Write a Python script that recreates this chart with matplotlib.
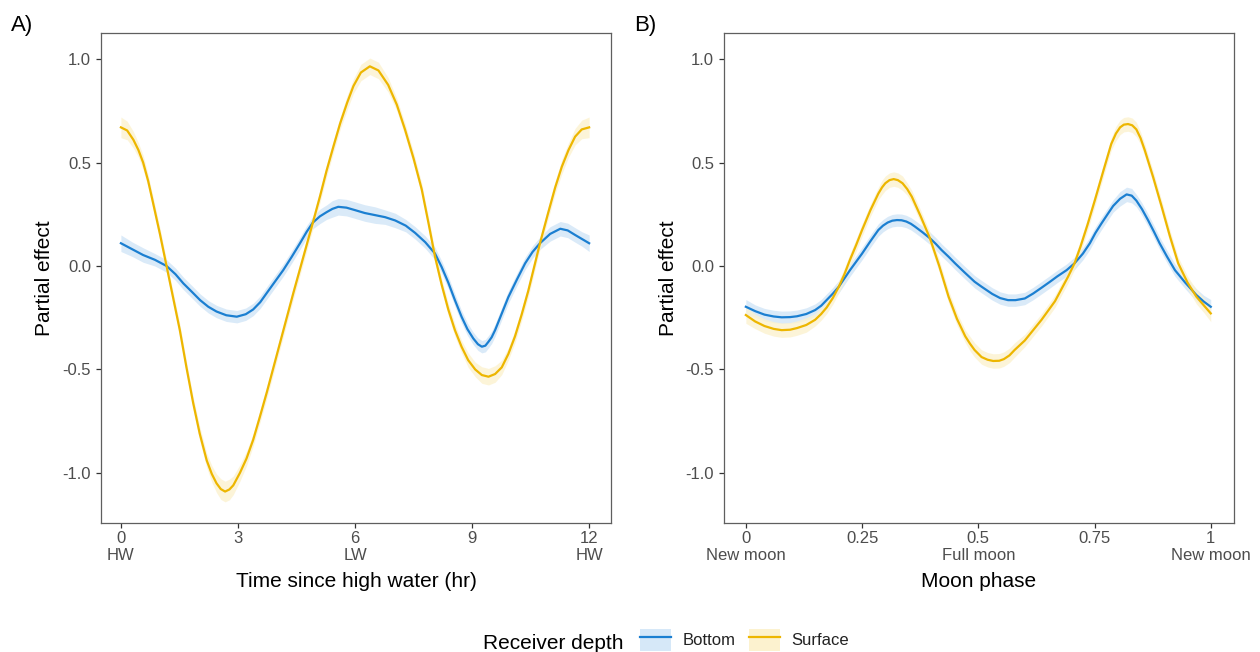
import matplotlib
matplotlib.use("Agg")
import matplotlib.pyplot as plt
from matplotlib.patches import Patch
from matplotlib.lines import Line2D

plt.rcParams['font.family'] = ['Liberation Sans', 'DejaVu Sans']

# ---------------- data: (x, partial effect, CI half-width) ----------------
# Panel A: time since high water (hr)
tide_surface = [
    (0, 0.67, 0.05), (0.16, 0.655, 0.045), (0.32, 0.61, 0.04), (0.45, 0.56, 0.035),
    (0.57, 0.50, 0.035), (0.7, 0.41, 0.03), (0.83, 0.30, 0.03), (1.0, 0.155, 0.03),
    (1.17, 0.0, 0.03), (1.34, -0.155, 0.03), (1.51, -0.31, 0.03), (1.68, -0.49, 0.03),
    (1.85, -0.66, 0.03), (2.02, -0.81, 0.035), (2.2, -0.94, 0.035), (2.33, -1.005, 0.04),
    (2.45, -1.05, 0.045), (2.56, -1.078, 0.05), (2.67, -1.09, 0.05), (2.78, -1.08, 0.05),
    (2.88, -1.06, 0.045), (3.05, -1.0, 0.04), (3.22, -0.93, 0.035), (3.39, -0.84, 0.03),
    (3.56, -0.73, 0.03), (3.74, -0.61, 0.03), (3.91, -0.49, 0.03), (4.08, -0.37, 0.03),
    (4.25, -0.25, 0.03), (4.42, -0.13, 0.03), (4.67, 0.04, 0.03), (4.92, 0.21, 0.03),
    (5.1, 0.335, 0.03), (5.27, 0.46, 0.03), (5.45, 0.58, 0.03), (5.62, 0.69, 0.03),
    (5.8, 0.79, 0.035), (5.96, 0.87, 0.035), (6.15, 0.935, 0.04), (6.38, 0.965, 0.04),
    (6.6, 0.945, 0.04), (6.85, 0.875, 0.035), (7.07, 0.78, 0.03), (7.28, 0.66, 0.03),
    (7.5, 0.52, 0.03), (7.71, 0.37, 0.03), (7.88, 0.21, 0.03), (8.05, 0.045, 0.03),
    (8.22, -0.09, 0.03), (8.39, -0.21, 0.03), (8.56, -0.31, 0.03), (8.73, -0.39, 0.03),
    (8.9, -0.455, 0.035), (9.08, -0.50, 0.035), (9.25, -0.527, 0.04), (9.42, -0.535, 0.04),
    (9.59, -0.522, 0.04), (9.76, -0.49, 0.035), (9.93, -0.425, 0.03), (10.1, -0.34, 0.03),
    (10.27, -0.235, 0.03), (10.44, -0.12, 0.03), (10.59, -0.005, 0.03), (10.74, 0.11, 0.03),
    (10.94, 0.25, 0.03), (11.13, 0.38, 0.03), (11.3, 0.48, 0.035), (11.47, 0.56, 0.035),
    (11.64, 0.625, 0.04), (11.81, 0.66, 0.045), (12, 0.67, 0.05),
]
tide_bottom = [
    (0, 0.11, 0.04), (0.3, 0.08, 0.035), (0.57, 0.053, 0.035), (0.87, 0.03, 0.03),
    (1.17, 0.0, 0.03), (1.4, -0.04, 0.03), (1.6, -0.084, 0.03), (1.82, -0.125, 0.03),
    (2.03, -0.165, 0.03), (2.24, -0.197, 0.03), (2.45, -0.22, 0.03), (2.7, -0.238, 0.03),
    (2.97, -0.245, 0.03), (3.2, -0.233, 0.03), (3.39, -0.21, 0.03), (3.57, -0.175, 0.03),
    (3.74, -0.13, 0.03), (3.95, -0.075, 0.03), (4.16, -0.02, 0.03), (4.38, 0.045, 0.03),
    (4.59, 0.11, 0.03), (4.76, 0.165, 0.03), (4.92, 0.21, 0.03), (5.1, 0.24, 0.035),
    (5.27, 0.26, 0.035), (5.42, 0.276, 0.04), (5.57, 0.286, 0.04), (5.78, 0.282, 0.04),
    (6.0, 0.27, 0.04), (6.25, 0.256, 0.04), (6.51, 0.246, 0.04), (6.77, 0.236, 0.035),
    (7.03, 0.22, 0.035), (7.3, 0.195, 0.03), (7.54, 0.16, 0.03), (7.8, 0.115, 0.03),
    (8.05, 0.06, 0.03), (8.22, -0.005, 0.03), (8.39, -0.08, 0.03), (8.56, -0.165, 0.03),
    (8.73, -0.245, 0.03), (8.88, -0.305, 0.03), (9.03, -0.35, 0.03), (9.15, -0.378, 0.03),
    (9.25, -0.39, 0.03), (9.34, -0.385, 0.03), (9.42, -0.366, 0.03), (9.5, -0.345, 0.03),
    (9.59, -0.31, 0.03), (9.76, -0.23, 0.03), (9.93, -0.15, 0.03), (10.15, -0.065, 0.03),
    (10.36, 0.013, 0.03), (10.55, 0.068, 0.03), (10.74, 0.11, 0.03), (11.0, 0.155, 0.035),
    (11.26, 0.18, 0.035), (11.45, 0.172, 0.035), (11.64, 0.15, 0.035), (11.82, 0.13, 0.035),
    (12, 0.11, 0.04),
]

# Panel B: moon phase
moon_bottom = [
    (0, -0.197, 0.035), (0.02, -0.218, 0.03), (0.04, -0.235, 0.03), (0.06, -0.244, 0.03),
    (0.077, -0.248, 0.03), (0.095, -0.247, 0.03), (0.11, -0.243, 0.03), (0.13, -0.232, 0.03),
    (0.149, -0.213, 0.03), (0.162, -0.192, 0.03), (0.174, -0.164, 0.03), (0.187, -0.134, 0.03),
    (0.2, -0.10, 0.03), (0.212, -0.06, 0.03), (0.224, -0.02, 0.03), (0.237, 0.02, 0.03),
    (0.25, 0.06, 0.03), (0.268, 0.12, 0.03), (0.285, 0.174, 0.03), (0.295, 0.195, 0.03),
    (0.305, 0.21, 0.03), (0.315, 0.219, 0.03), (0.325, 0.222, 0.03), (0.335, 0.221, 0.03),
    (0.345, 0.215, 0.03), (0.355, 0.204, 0.03), (0.364, 0.19, 0.03), (0.38, 0.163, 0.03),
    (0.396, 0.134, 0.03), (0.409, 0.106, 0.03), (0.421, 0.077, 0.03), (0.436, 0.045, 0.03),
    (0.45, 0.013, 0.03), (0.47, -0.03, 0.03), (0.492, -0.076, 0.03), (0.507, -0.10, 0.03),
    (0.53, -0.135, 0.03), (0.547, -0.155, 0.03), (0.564, -0.165, 0.03), (0.58, -0.165, 0.03),
    (0.6, -0.157, 0.03), (0.618, -0.133, 0.03), (0.636, -0.105, 0.03), (0.653, -0.078, 0.03),
    (0.67, -0.05, 0.03), (0.69, -0.02, 0.03), (0.707, 0.013, 0.03), (0.725, 0.06, 0.03),
    (0.74, 0.11, 0.03), (0.752, 0.16, 0.03), (0.765, 0.206, 0.03), (0.778, 0.25, 0.03),
    (0.79, 0.29, 0.03), (0.805, 0.325, 0.035), (0.819, 0.346, 0.035), (0.83, 0.34, 0.035),
    (0.84, 0.316, 0.03), (0.852, 0.275, 0.03), (0.865, 0.222, 0.03), (0.878, 0.165, 0.03),
    (0.89, 0.11, 0.03), (0.906, 0.045, 0.03), (0.923, -0.02, 0.03), (0.945, -0.08, 0.03),
    (0.969, -0.14, 0.03), (0.985, -0.172, 0.03), (1.0, -0.197, 0.035),
]
moon_surface = [
    (0, -0.237, 0.04), (0.02, -0.268, 0.035), (0.04, -0.29, 0.035), (0.06, -0.304, 0.035),
    (0.077, -0.31, 0.035), (0.095, -0.308, 0.035), (0.11, -0.30, 0.035), (0.13, -0.285, 0.035),
    (0.149, -0.26, 0.03), (0.162, -0.232, 0.03), (0.174, -0.20, 0.03), (0.187, -0.155, 0.03),
    (0.2, -0.10, 0.03), (0.212, -0.04, 0.03), (0.224, 0.03, 0.03), (0.237, 0.10, 0.03),
    (0.25, 0.174, 0.03), (0.268, 0.27, 0.03), (0.285, 0.35, 0.03), (0.293, 0.38, 0.035),
    (0.3, 0.40, 0.035), (0.309, 0.415, 0.035), (0.318, 0.42, 0.035), (0.327, 0.415, 0.035),
    (0.337, 0.40, 0.035), (0.347, 0.372, 0.03), (0.357, 0.335, 0.03), (0.376, 0.24, 0.03),
    (0.396, 0.134, 0.03), (0.416, 0.0, 0.03), (0.436, -0.148, 0.03), (0.454, -0.255, 0.03),
    (0.472, -0.34, 0.03), (0.482, -0.375, 0.035), (0.492, -0.406, 0.035), (0.507, -0.44, 0.035),
    (0.52, -0.453, 0.035), (0.532, -0.459, 0.035), (0.545, -0.458, 0.035), (0.555, -0.45, 0.035),
    (0.567, -0.432, 0.035), (0.578, -0.406, 0.035), (0.6, -0.36, 0.03), (0.618, -0.31, 0.03),
    (0.636, -0.26, 0.03), (0.665, -0.17, 0.03), (0.693, -0.052, 0.03), (0.707, 0.013, 0.03),
    (0.72, 0.095, 0.03), (0.735, 0.2, 0.03), (0.751, 0.32, 0.03), (0.769, 0.46, 0.03),
    (0.786, 0.59, 0.03), (0.796, 0.64, 0.035), (0.805, 0.67, 0.035), (0.813, 0.683, 0.035),
    (0.822, 0.686, 0.035), (0.831, 0.68, 0.035), (0.84, 0.66, 0.035), (0.849, 0.618, 0.03),
    (0.858, 0.56, 0.03), (0.876, 0.43, 0.03), (0.894, 0.29, 0.03), (0.912, 0.145, 0.03),
    (0.93, 0.013, 0.03), (0.95, -0.08, 0.03), (0.969, -0.148, 0.035), (0.985, -0.19, 0.035),
    (1.0, -0.229, 0.04),
]

tide_ticks = [0, 3, 6, 9, 12]
tide_ticklabels = ['0\nHW', '3', '6\nLW', '9', '12\nHW']
moon_ticks = [0, 0.25, 0.5, 0.75, 1]
moon_ticklabels = ['0\nNew moon', '0.25', '0.5\nFull moon', '0.75', '1\nNew moon']
y_ticks = [-1.0, -0.5, 0.0, 0.5, 1.0]
y_ticklabels = ['-1.0', '-0.5', '0.0', '0.5', '1.0']
series_names = ['Bottom', 'Surface']

# ---------------- style ----------------
BLUE = '#1B7FD1'
YELLOW = '#EDB600'
BLUE_FILL = '#D6E8F8'
YELLOW_FILL = '#FCF2CF'
W, H = 1260, 652

fig = plt.figure(figsize=(W / 100, H / 100), dpi=100)


def fx(px):
    return px / W


def fy(py):
    return 1 - py / H


axA = fig.add_axes([fx(101), fy(523), fx(611) - fx(101), fy(33) - fy(523)])
axB = fig.add_axes([fx(724), fy(523), fx(1234) - fx(724), fy(33) - fy(523)])


def unpack(rows):
    x = [r[0] for r in rows]
    y = [r[1] for r in rows]
    lo = [r[1] - r[2] for r in rows]
    hi = [r[1] + r[2] for r in rows]
    return x, y, lo, hi


def draw(ax, bottom, surface):
    xb, yb, lob, hib = unpack(bottom)
    xs, ys, los, his = unpack(surface)
    ax.fill_between(xb, lob, hib, color=BLUE_FILL, lw=0, alpha=0.9, zorder=1)
    ax.fill_between(xs, los, his, color=YELLOW_FILL, lw=0, alpha=0.8, zorder=1)
    ax.plot(xb, yb, color=BLUE, lw=1.6, zorder=3, solid_joinstyle='round')
    ax.plot(xs, ys, color=YELLOW, lw=1.6, zorder=3, solid_joinstyle='round')


draw(axA, tide_bottom, tide_surface)
draw(axB, moon_bottom, moon_surface)

axA.set_xlim(-0.51, 12.56)
axB.set_xlim(-0.047, 1.05)
axA.set_xticks(tide_ticks)
axA.set_xticklabels(tide_ticklabels)
axB.set_xticks(moon_ticks)
axB.set_xticklabels(moon_ticklabels)

for ax in (axA, axB):
    ax.set_ylim(-1.242, 1.126)
    ax.set_yticks(y_ticks)
    ax.set_yticklabels(y_ticklabels)
    for s in ax.spines.values():
        s.set_color('#5f5f5f')
        s.set_linewidth(0.9)
    ax.tick_params(axis='both', length=3.6, width=0.9, color='#333333',
                   labelcolor='#4d4d4d', labelsize=12)
    ax.tick_params(axis='x', pad=2)
    ax.tick_params(axis='y', pad=3.6)
    for lab in ax.get_xticklabels():
        lab.set_linespacing(1.15)

# axis titles
fig.text(fx(356), fy(587), 'Time since high water (hr)', ha='center', va='baseline', fontsize=15)
fig.text(fx(979), fy(587), 'Moon phase', ha='center', va='baseline', fontsize=15)
fig.text(fx(45), fy(278), 'Partial effect', rotation=90, ha='center', va='center', fontsize=15)
fig.text(fx(668), fy(278), 'Partial effect', rotation=90, ha='center', va='center', fontsize=15)

# panel labels
fig.text(fx(11), fy(31.5), 'A)', ha='left', va='baseline', fontsize=16)
fig.text(fx(634), fy(31.5), 'B)', ha='left', va='baseline', fontsize=16)

# legend
fig.text(fx(483), fy(649), 'Receiver depth', ha='left', va='baseline', fontsize=15)
handles = [(Patch(facecolor=BLUE_FILL, edgecolor='none'), Line2D([], [], color=BLUE, lw=1.6)),
           (Patch(facecolor=YELLOW_FILL, edgecolor='none'), Line2D([], [], color=YELLOW, lw=1.6))]
fig.legend(handles, series_names, loc='center left', bbox_to_anchor=(fx(640), fy(640)),
           ncol=2, frameon=False, fontsize=12, handlelength=1.85, handleheight=1.6,
           handletextpad=0.7, columnspacing=0.8, borderpad=0, borderaxespad=0,
           labelcolor='#222222')

fig.savefig('out.png', dpi=100)
